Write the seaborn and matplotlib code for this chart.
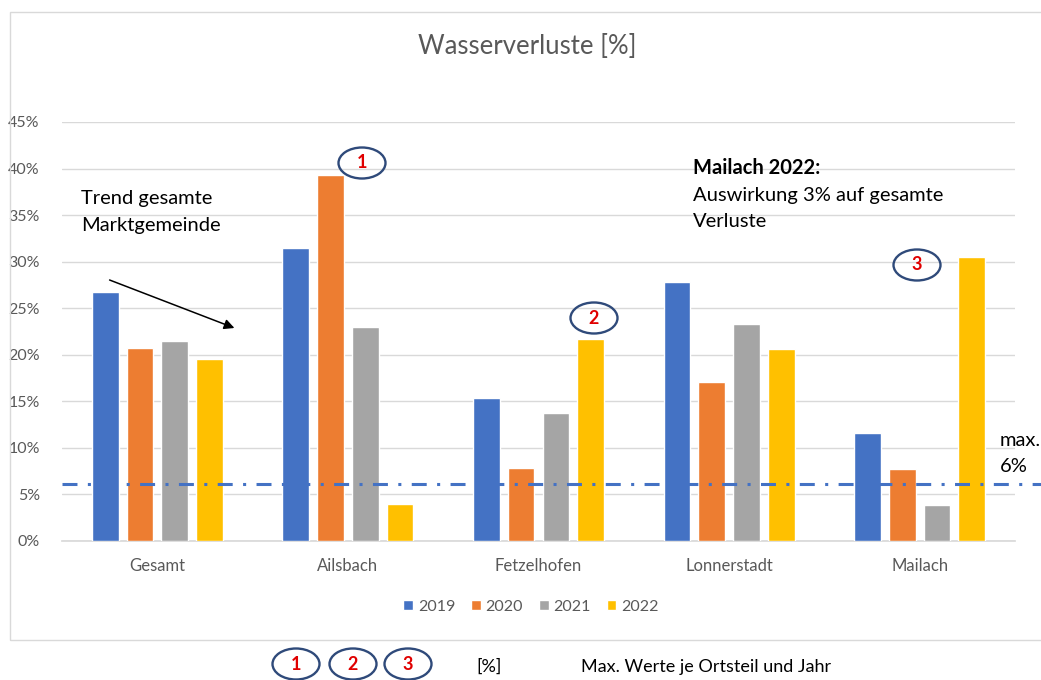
import matplotlib
matplotlib.use("Agg")
import matplotlib.pyplot as plt
import seaborn as sns
import pandas as pd
from matplotlib.patches import Ellipse, Rectangle, FancyArrowPatch
from matplotlib.ticker import FuncFormatter

# ---- data ----
categories = ["Gesamt", "Ailsbach", "Fetzelhofen", "Lonnerstadt", "Mailach"]
years = ["2019", "2020", "2021", "2022"]
v2019 = [26.7, 31.5, 15.4, 27.8, 11.6]
v2020 = [20.7, 39.3, 7.8, 17.1, 7.7]
v2021 = [21.5, 23.0, 13.8, 23.3, 3.9]
v2022 = [19.5, 4.0, 21.7, 20.6, 30.5]
limit = 6.1
colors = ["#4472C4", "#ED7D31", "#A5A5A5", "#FFC000"]

rows = []
for y, vals in zip(years, [v2019, v2020, v2021, v2022]):
    for c, v in zip(categories, vals):
        rows.append({"Ortsteil": c, "Jahr": y, "Wert": v})
df = pd.DataFrame(rows)

sns.set_theme(style="white")
FONT = ["Lato", "DejaVu Sans"]
plt.rcParams["font.family"] = FONT

W, H = 1041, 680
fig = plt.figure(figsize=(W / 100, H / 100), dpi=100)
def fx(p): return p / W
def fy(p): return 1 - p / H

ax = fig.add_axes([fx(62), fy(541), fx(1015) - fx(62), fy(122) - fy(541)])
sns.barplot(data=df, x="Ortsteil", y="Wert", hue="Jahr", palette=colors,
            order=categories, hue_order=years, width=0.73, gap=0.23,
            errorbar=None, ax=ax, zorder=3, saturation=1)

ax.set_ylim(0, 45)
ax.set_xlim(-0.5, 4.5)
ax.set_yticks(range(0, 50, 5))
ax.yaxis.set_major_formatter(FuncFormatter(lambda v, p: f"{int(v)}%"))
ax.grid(axis="y", color="#D9D9D9", lw=1, zorder=0)
ax.set_axisbelow(True)
for s in ["top", "right", "left"]:
    ax.spines[s].set_visible(False)
ax.spines["bottom"].set_color("#D9D9D9")
ax.tick_params(axis="y", length=0, colors="#595959", labelsize=11.5, pad=16)
ax.tick_params(axis="x", length=0, colors="#595959", labelsize=12, pad=12)
ax.set_xlabel("")
ax.set_ylabel("")

# limit line
ax.axhline(limit, xmin=0, xmax=1.03, color="#4472C4", lw=2.2,
           linestyle=(0, (4.9, 3.4, 1, 3.4)), clip_on=False, zorder=4)

# legend
ax.legend(loc="center", bbox_to_anchor=(fx(531), fy(607)),
          bbox_transform=fig.transFigure, ncol=4, frameon=False,
          handlelength=0.6, handleheight=0.6, columnspacing=1.0,
          handletextpad=0.3, fontsize=11.5, labelcolor="#595959")

# frame of chart
fig.add_artist(Rectangle((fx(10), fy(640)), fx(1060) - fx(10), fy(12) - fy(640),
                         transform=fig.transFigure, fill=False,
                         edgecolor="#D9D9D9", lw=1))

# title
fig.text(fx(527), fy(47), "Wasserverluste [%]", ha="center", va="center",
         fontsize=18.5, color="#595959")

# annotations
TXT = 14.5
fig.text(fx(81), fy(198), "Trend gesamte", ha="left", va="center",
         fontsize=TXT, color="black")
fig.text(fx(81), fy(226), "Marktgemeinde", ha="left", va="center",
         fontsize=TXT, color="black")
fig.add_artist(FancyArrowPatch((fx(107), fy(279)), (fx(237), fy(329)),
                               transform=fig.transFigure, arrowstyle="-|>",
                               mutation_scale=15, color="black", lw=1.1))

fig.text(fx(693), fy(168), "Mailach 2022:", ha="left", va="center",
         fontsize=TXT, fontweight="bold", color="black")
fig.text(fx(693), fy(195), "Auswirkung 3% auf gesamte", ha="left", va="center",
         fontsize=TXT, color="black")
fig.text(fx(693), fy(222), "Verluste", ha="left", va="center",
         fontsize=TXT, color="black")

fig.text(fx(1000), fy(441), "max.", ha="left", va="center", fontsize=TXT,
         color="black")
fig.text(fx(1000), fy(466), "6%", ha="left", va="center", fontsize=TXT,
         color="black")

def circ(px, py, label):
    fig.add_artist(Ellipse((fx(px), fy(py)), fx(47), 31 / H,
                           transform=fig.transFigure, fill=False,
                           edgecolor="#2F4A7A", lw=1.7))
    fig.text(fx(px), fy(py), label, ha="center", va="center", fontsize=13,
             fontweight="bold", color="#E00000")

circ(362, 163, "1")
circ(594, 318, "2")
circ(917, 265, "3")
circ(296, 664, "1")
circ(353, 664, "2")
circ(408, 664, "3")

fig.text(fx(476), fy(667), "[%]", ha="left", va="center", fontsize=13,
         color="black")
fig.text(fx(581), fy(667), "Max. Werte je Ortsteil und Jahr", ha="left",
         va="center", fontsize=13, color="black")

fig.savefig("out.png", dpi=100)
